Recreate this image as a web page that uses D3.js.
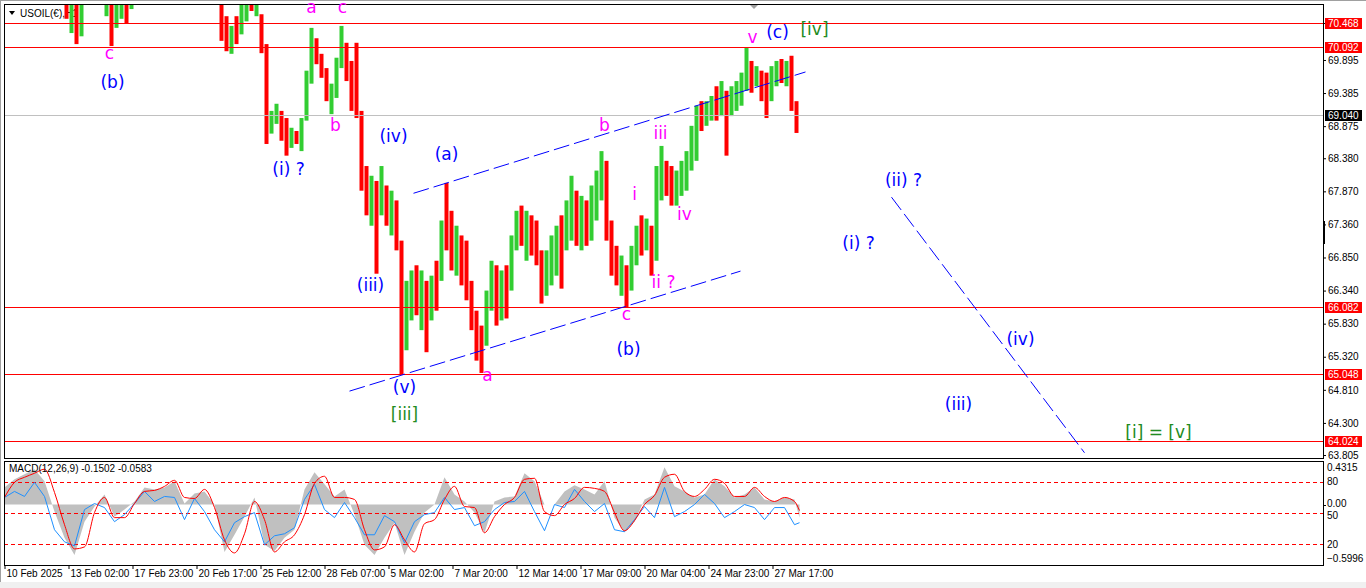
<!DOCTYPE html>
<html><head><meta charset="utf-8">
<script src="https://cdn.jsdelivr.net/npm/d3@7"></script>
<style>
html,body{margin:0;padding:0;background:#fff;}
svg{display:block;}
</style></head><body>
<svg id="c" width="1366" height="588"></svg>
<script>
// ---------- DATA ----------
// Price bins: each entry aggregates 5 hourly bars (bar index = 5*i)
const barHigh = [
71.45,71.60,71.75,71.70,71.55,71.40,71.35,71.50,71.45,71.30,71.20,71.10,
71.05,70.95,70.90,70.95,
71.25,71.40,71.35,71.10,
71.00,70.90,70.95,71.00,70.98,71.05,
71.20,71.35,71.50,71.60,71.70,71.85,71.90,71.80,71.65,71.55,71.50,71.40,71.35,71.30,71.25,71.15,71.05,
70.95,70.57,70.42,70.57,70.85,70.90,70.95,70.90,70.60,
70.14,
69.11,69.22,69.11,69.00,68.85,68.80,69.00,
69.73,70.39,70.23,69.99,69.77,69.53,69.93,70.42,70.16,69.88,70.16,
69.11,68.26,68.11,68.03,68.26,67.96,67.88,67.73,67.11,
66.49,66.65,66.73,66.65,66.49,66.57,66.80,
67.42,68.00,67.57,67.34,67.19,67.11,
66.49,66.03,65.80,
66.34,66.80,66.73,66.65,66.73,
67.19,67.57,67.65,67.57,67.50,67.42,
66.96,66.96,67.19,67.34,67.50,67.73,68.11,
67.88,67.80,67.73,67.96,68.19,68.49,
68.34,67.42,67.03,66.88,66.73,
67.03,67.34,67.50,67.45,67.34,
68.26,68.57,68.34,68.26,68.19,68.34,68.49,
68.88,69.19,69.26,69.26,69.34,69.49,69.57,
69.42,69.49,69.57,69.70,70.08,
69.88,69.80,69.73,69.70,69.80,69.88,69.91,69.88,69.96,69.26];
const barLow = [
71.05,71.20,71.30,71.25,71.10,71.00,70.95,71.05,71.00,70.92,70.90,70.85,
70.53,70.31,70.14,70.26,
70.90,71.00,70.95,70.85,
70.57,70.11,70.39,70.53,70.46,70.68,
70.88,70.95,71.05,71.15,71.25,71.40,71.45,71.30,71.20,71.10,71.05,71.00,70.95,70.95,70.90,70.88,70.85,
70.19,70.03,69.99,70.14,70.29,70.49,70.65,70.57,70.00,
68.60,
68.76,68.91,68.65,68.42,68.54,68.60,68.49,
68.96,69.53,69.83,69.62,69.26,69.06,69.31,69.77,69.57,69.11,69.00,
67.88,67.50,67.34,66.60,67.50,67.34,67.19,66.96,65.05,
65.42,65.88,65.96,65.73,65.39,65.88,66.03,
66.49,66.96,66.65,66.57,66.42,66.19,
65.73,65.26,65.07,
65.49,66.03,65.80,65.88,65.91,
66.34,66.96,67.03,66.80,66.88,66.73,
66.14,66.26,66.42,66.57,66.37,66.96,67.11,
67.03,66.96,67.03,67.11,67.42,67.73,
67.11,66.57,66.42,66.26,66.08,
66.34,66.73,66.88,66.96,66.57,
66.80,67.73,67.80,67.65,67.65,67.80,67.88,
68.19,68.34,68.80,68.88,68.96,68.96,69.03,
68.42,69.03,69.11,69.19,69.42,
69.39,69.49,69.26,69.00,69.26,69.49,69.54,69.49,69.11,68.77];
const barDir = "GRGRRGGRRGRR"+"RGRG"+"GRRG"+"GRGGRG"+"GRGGRRGRRGRRGRRGR"+"RRGRGGRGR"+"R"+"GGRRGRG"+"GG"+"RRRG"+"GG"+"RRR"+"RRGRGRGRR"+"GGRGRGR"+"GR"+"RGRR"+"RRR"+"GG"+"RGR"+"GGR"+"GRR"+"RG"+"GGRGG"+"RGR"+"GGG"+"RRRGR"+"GGRG"+"R"+"GG"+"RRGGG"+"GGRGGRG"+"R"+"GGGG"+"RGRR"+"GGRG"+"RR";
const barsPerBin = 5;

// MACD panel, sampled every 10 hourly bars
const macdHist = [
0.17,0.25,0.30,0.35,0.23,-0.07,-0.33,-0.50,-0.17,-0.02,
0.10,-0.12,-0.05,0.03,0.17,0.15,0.17,0.23,0.01,0.11,
0.13,0.00,-0.47,-0.30,-0.12,0.07,-0.40,-0.46,-0.33,-0.25,
0.15,0.32,0.20,0.08,0.15,-0.10,-0.40,-0.50,-0.33,-0.18,
-0.50,-0.27,-0.08,0.00,0.27,0.10,0.03,-0.08,-0.28,0.03,
0.07,0.08,0.31,0.23,0.00,0.00,0.13,0.19,0.15,0.10,
0.23,-0.13,-0.27,-0.17,0.05,0.10,0.37,0.18,0.13,0.07,
0.10,0.25,0.18,0.07,0.10,0.17,0.05,0.03,0.07,0.05,
-0.13];
const macdSignal = [
0.07,0.22,0.27,0.31,0.35,0.12,-0.20,-0.44,-0.42,-0.08,
0.07,-0.13,-0.13,0.01,0.13,0.14,0.18,0.24,0.07,0.06,
0.15,-0.03,-0.35,-0.48,-0.29,0.03,-0.15,-0.47,-0.37,-0.30,
-0.10,0.21,0.28,0.07,0.07,0.05,-0.25,-0.45,-0.42,-0.20,
-0.35,-0.47,-0.19,-0.15,0.05,0.18,-0.02,-0.03,-0.28,-0.12,
0.00,0.07,0.25,0.26,-0.07,-0.11,0.00,0.06,0.17,0.16,
0.13,-0.08,-0.26,-0.16,0.00,0.09,0.27,0.30,0.13,0.08,
0.15,0.25,0.21,0.08,0.08,0.17,0.08,0.03,0.07,0.03,
-0.06];
const macdBlue = [
0.07,0.13,0.08,0.22,0.08,-0.25,-0.37,-0.41,-0.05,0.01,
-0.03,-0.17,-0.10,0.01,0.13,0.03,0.08,0.07,-0.15,0.06,
-0.07,-0.25,-0.37,-0.18,-0.12,-0.08,-0.40,-0.31,-0.29,-0.23,
0.05,0.20,-0.05,-0.13,0.02,-0.13,-0.30,-0.30,-0.11,-0.17,
-0.38,-0.17,-0.10,-0.08,0.07,-0.05,-0.03,-0.21,-0.17,-0.05,
0.02,0.03,0.13,-0.07,-0.26,0.00,-0.03,0.15,0.03,-0.07,
0.01,-0.25,-0.27,-0.15,-0.02,-0.13,0.17,-0.12,-0.07,0.00,
0.10,0.01,-0.13,-0.07,0.00,-0.03,-0.15,-0.03,-0.03,-0.20,
-0.18];
const macdStep = 10;
const macdLastBar = 795;
const macdMax = 0.4315, macdMin = -0.5996;
const macdTitle = "MACD(12,26,9) -0.1502 -0.0583";
const stochLevels = [80, 50, 20];

const timeTickBars = [0,64,128,192,256,320,384,448,512,576,640,704,768];
const timeLabels = ["10 Feb 2025","13 Feb 02:00","17 Feb 23:00","20 Feb 17:00","25 Feb 12:00","28 Feb 07:00","5 Mar 02:00","7 Mar 20:00","12 Mar 14:00","17 Mar 09:00","20 Mar 04:00","24 Mar 23:00","27 Mar 17:00"];
const priceTicks = [70.465,69.895,69.385,68.875,68.380,67.870,67.360,66.850,66.340,65.830,65.320,64.810,64.300,63.805];
const priceMin = 63.759, priceMax = 70.758;
const levelPrices = [70.468, 70.092, 66.082, 65.048, 64.024];
const bidPrice = 69.040;

const waveText = ["c","(b)","a","c","b","(i) ?","(iv)","(a)","(iii)","(v)","[iii]","a","(b)","c","b","iii","i","iv","ii ?","v","(c)","[iv]","(ii) ?","(i) ?","(iv)","(iii)","[i] = [v]"];
const waveBar = [105,108,307,338,331,284,389,442,366,400,400,483,624,622,600,656,630,680,659,748,773,810,899,854,1016,954,1154];
const wavePrice = [69.91,69.46,70.62,70.62,68.80,68.12,68.63,68.35,66.33,64.76,64.34,64.95,65.35,65.89,68.80,68.68,67.74,67.43,66.38,70.16,70.23,70.28,67.95,66.98,65.50,64.50,64.07];
const waveDegree = ["sub","minuette","sub","sub","sub","minuette","minuette","minuette","minuette","minuette","minute","sub","minuette","sub","sub","sub","sub","sub","sub","sub","minuette","minute","minuette","minuette","minuette","minuette","minute"];

const channelBars = [[409,801],[345,736],[887,1080]];
const channelPrices = [[67.84,69.71],[64.79,66.64],[67.78,63.84]];

// ---------- DRAW ----------
const svg = d3.select('#c');
const L = 4, R = 1323, T = 4, B = 458, mT = 461, mB = 565;
const FONT = '"Liberation Sans", Arial, sans-serif';
const x = d3.scaleLinear().domain([0, 1319]).range([L + 0.5, R + 0.5]);
const y = d3.scaleLinear().domain([priceMin, priceMax]).range([B, T]);
const ym = d3.scaleLinear().domain([macdMin, macdMax]).range([mB, mT]);
const ys = d3.scaleLinear().domain([0, 100]).range([mB, mT]);

svg.append('rect').attr('width',1366).attr('height',588).attr('fill','#fff');
svg.append('rect').attr('x',0).attr('y',582).attr('width',1366).attr('height',6).attr('fill','#f0f0f0');
svg.append('line').attr('x1',0.5).attr('x2',0.5).attr('y1',0).attr('y2',582).attr('stroke','#a0a0a0');
svg.append('line').attr('x1',0).attr('x2',1366).attr('y1',0.5).attr('y2',0.5).attr('stroke','#a0a0a0');

const defs = svg.append('defs');
defs.append('clipPath').attr('id','mainClip').append('rect').attr('x',L+1).attr('y',T+1).attr('width',R-L-1).attr('height',B-T-1);
defs.append('clipPath').attr('id','macdClip').append('rect').attr('x',L+1).attr('y',mT+1).attr('width',R-L-1).attr('height',mB-mT-1);

// title
svg.append('path').attr('d','M9,11 L15,11 L12,15 Z').attr('fill','#000');
svg.append('text').attr('x',20).attr('y',17).attr('font-family',FONT).attr('font-size',10).attr('fill','#000').text('USOIL(€),H1');

const main = svg.append('g').attr('clip-path','url(#mainClip)');
// candles
const bins = barHigh.map((h,i)=>({i, h, l: barLow[i], up: barDir[i]==='G'}));
main.selectAll('rect.bar').data(bins).enter().append('rect')
  .attr('x', d => x(d.i*barsPerBin))
  .attr('width', d => x((d.i+1)*barsPerBin) - x(d.i*barsPerBin) - 1)
  .attr('y', d => y(d.h))
  .attr('height', d => Math.max(1, y(d.l) - y(d.h)))
  .attr('fill', d => d.up ? '#32CD32' : '#FF0000');

// bid line & level lines
main.append('line').attr('x1',L).attr('x2',R).attr('y1',Math.round(y(bidPrice))+0.5).attr('y2',Math.round(y(bidPrice))+0.5).attr('stroke','#C0C0C0');
main.selectAll('line.lvl').data(levelPrices).enter().append('line')
  .attr('x1',L).attr('x2',R)
  .attr('y1',d=>Math.round(y(d))+0.5).attr('y2',d=>Math.round(y(d))+0.5)
  .attr('stroke','#FF0000').attr('stroke-width',1);

// channel lines
main.selectAll('line.ch').data(channelBars).enter().append('line')
  .attr('x1',(d)=>x(d[0])).attr('x2',(d)=>x(d[1]))
  .attr('y1',(d,i)=>y(channelPrices[i][0])).attr('y2',(d,i)=>y(channelPrices[i][1]))
  .attr('stroke','#0000FF').attr('stroke-width',1).attr('stroke-dasharray','16,5');

// frames
svg.append('rect').attr('x',L+0.5).attr('y',T+0.5).attr('width',R-L).attr('height',B-T).attr('fill','none').attr('stroke','#000');
svg.append('rect').attr('x',L+0.5).attr('y',mT+0.5).attr('width',R-L).attr('height',mB-mT).attr('fill','none').attr('stroke','#000');

// wave labels
const degColor = {sub:'#FF00FF', minuette:'#0000FF', minute:'#228B22'};
svg.selectAll('text.wave').data(waveText).enter().append('text')
  .attr('x',(d,i)=>x(waveBar[i])).attr('y',(d,i)=>y(wavePrice[i]))
  .attr('text-anchor','middle')
  .attr('font-family','"DejaVu Sans", Verdana, sans-serif').attr('font-size',17)
  .attr('fill',(d,i)=>degColor[waveDegree[i]])
  .text(d=>d);

// shift marker
svg.append('path').attr('d','M750,5 L758,5 L754,9 Z').attr('fill','#a0a0a0');

// price axis
const pa = svg.append('g').attr('transform',`translate(${R},0)`)
  .call(d3.axisRight(y).tickValues(priceTicks).tickSize(3).tickFormat(d3.format('.3f')));
pa.select('.domain').remove();
pa.selectAll('text').attr('font-family',FONT).attr('font-size',10).attr('fill','#000').attr('x',5);
pa.selectAll('line').attr('stroke','#000');
svg.append('rect').attr('x',R).attr('y',221).attr('width',2).attr('height',23).attr('fill','#000');

// tags
const tags = levelPrices.map(p=>({p, c:'#FF0000'})).concat([{p:bidPrice, c:'#000'}]);
const tg = svg.selectAll('g.tag').data(tags).enter().append('g').attr('transform',d=>`translate(${R+2},${Math.round(y(d.p))})`);
tg.append('rect').attr('x',0).attr('y',-5).attr('width',37).attr('height',11).attr('fill',d=>d.c);
tg.append('text').attr('x',3).attr('y',4).attr('font-family',FONT).attr('font-size',10).attr('fill','#fff').text(d=>d3.format('.3f')(d.p));

// ---------- MACD ----------
const mg = svg.append('g').attr('clip-path','url(#macdClip)');
const mx = (d,i) => x(Math.min(i*macdStep, macdLastBar));
mg.append('path').datum(macdHist)
  .attr('d', d3.area().x(mx).y0(ym(0)).y1(d=>ym(d)))
  .attr('fill','#C0C0C0');
mg.selectAll('line.lv').data(stochLevels).enter().append('line')
  .attr('x1',L).attr('x2',R).attr('y1',d=>Math.round(ys(d))+0.5).attr('y2',d=>Math.round(ys(d))+0.5)
  .attr('stroke','#FF0000').attr('stroke-dasharray','4,3');
mg.append('path').datum(macdBlue)
  .attr('d', d3.line().x(mx).y(d=>ym(d)))
  .attr('fill','none').attr('stroke','#1E90FF').attr('stroke-width',1);
mg.append('path').datum(macdSignal)
  .attr('d', d3.line().x(mx).y(d=>ym(d)).curve(d3.curveMonotoneX))
  .attr('fill','none').attr('stroke','#FF0000').attr('stroke-width',1);

svg.append('text').attr('x',9).attr('y',472).attr('font-family',FONT).attr('font-size',10).attr('fill','#000')
  .text(macdTitle);

// MACD axis labels
const mAxis = [
  {t: d3.format('.4f')(macdMax), yy: ym(macdMax)+6},
  {t: '0.00', yy: ym(0)-1},
  {t: d3.format('.4f')(macdMin), yy: ym(macdMin)-7}
].concat(stochLevels.map(v=>({t:String(v), yy: ys(v) + (v===50 ? 2 : 0)})));
svg.selectAll('text.ma').data(mAxis).enter().append('text')
  .attr('x',R+4).attr('y',d=>d.yy).attr('dy','0.35em')
  .attr('font-family',FONT).attr('font-size',10).attr('fill','#000').text(d=>d.t);
svg.append('line').attr('x1',R).attr('x2',R+3).attr('y1',Math.round(ym(0))+0.5).attr('y2',Math.round(ym(0))+0.5).attr('stroke','#000');

// time axis
const ta = svg.append('g').attr('transform',`translate(0,${mB})`)
  .call(d3.axisBottom(x).tickValues(timeTickBars).tickSize(4).tickFormat((d,i)=>timeLabels[i]));
ta.select('.domain').remove();
ta.selectAll('line').attr('stroke','#000');
ta.selectAll('text').attr('text-anchor','start').attr('x',1.5).attr('y',5)
  .attr('font-family',FONT).attr('font-size',10).attr('fill','#000');
</script>
</body></html>
